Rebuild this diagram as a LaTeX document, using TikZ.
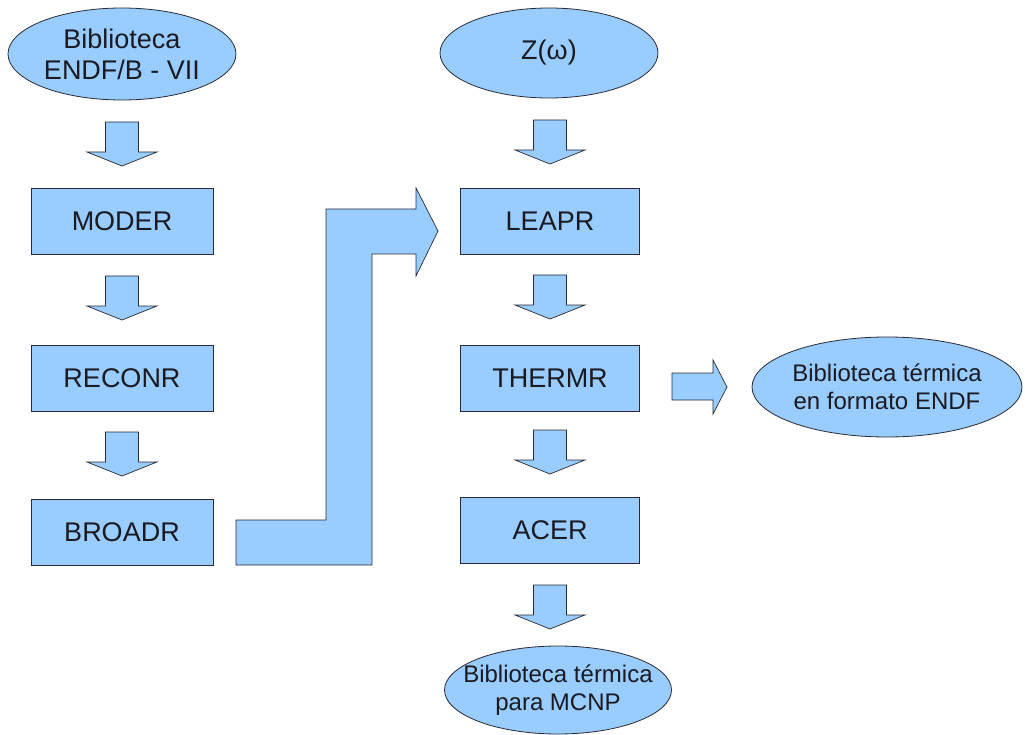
\documentclass[tikz,border=0pt]{standalone}
\usepackage{fontspec}
\setmainfont{Liberation Sans}
\usetikzlibrary{shapes.geometric}
\definecolor{fillblue}{HTML}{99CCFF}
\definecolor{edge}{HTML}{2A2A33}
\definecolor{txt}{HTML}{1A1A22}
\newcommand\bdarrow[2]{% x center, top y
  \draw[blockarrow] (#1-16.5,#2) -- (#1+16.5,#2) -- (#1+16.5,#2+30) -- (#1+35,#2+30)
    -- (#1,#2+44) -- (#1-35,#2+30) -- (#1-16.5,#2+30) -- cycle;}
\begin{document}
\begin{tikzpicture}[x=1pt,y=-1pt,
  every node/.style={text=txt},
  procbox/.style={draw=edge,fill=fillblue,line width=0.8pt,minimum width=182pt,minimum height=66pt,font=\fontsize{27}{32}\selectfont,inner sep=0pt},
  libell/.style={draw=edge,fill=fillblue,line width=0.8pt,ellipse,inner sep=0pt,align=center},
  blockarrow/.style={draw=edge,fill=fillblue,line width=0.7pt,line join=miter}]
\useasboundingbox (0,0) rectangle (1025,735);
% column 1
\node[libell,minimum width=228pt,minimum height=92pt,font=\fontsize{27}{31}\selectfont] (endf) at (122,54) {Biblioteca\\ENDF/B - VII};
\node[procbox] (moder) at (122,221) {MODER};
\node[procbox] (reconr) at (122,378) {RECONR};
\node[procbox] (broadr) at (122,532) {BROADR};
% column 2
\node[libell,minimum width=218pt,minimum height=90pt,font=\fontsize{27}{31}\selectfont] (zw) at (549,53) {Z(ω)};
\node[procbox,minimum width=179pt] (leapr) at (550,221) {LEAPR};
\node[procbox,minimum width=179pt] (thermr) at (550,378) {THERMR};
\node[procbox,minimum width=179pt] (acer) at (550,530) {ACER};
\node[libell,inner xsep=-17pt,minimum width=227pt,minimum height=88pt,font=\fontsize{24}{28}\selectfont] (mcnp) at (558,690) {Biblioteca térmica\\para MCNP};
\node[libell,inner xsep=-2pt,minimum width=270pt,minimum height=100pt,font=\fontsize{24}{28}\selectfont] (tendf) at (887,387) {Biblioteca térmica\\en formato ENDF};
% down block arrows
\bdarrow{122}{122}
\bdarrow{122}{276}
\bdarrow{122}{432}
\bdarrow{550}{120}
\bdarrow{550}{275}
\bdarrow{550}{430}
\bdarrow{550}{585}
% right block arrow
\draw[blockarrow] (672,373) -- (713,373) -- (713,360) -- (727,387) -- (713,414) -- (713,400) -- (672,400) -- cycle;
% big bent arrow from BROADR to LEAPR
\draw[blockarrow] (236,520) -- (326,520) -- (326,209) -- (416,209) -- (416,188) -- (438,231)
  -- (416,276) -- (416,254) -- (372,254) -- (372,565) -- (236,565) -- cycle;
\end{tikzpicture}
\end{document}
